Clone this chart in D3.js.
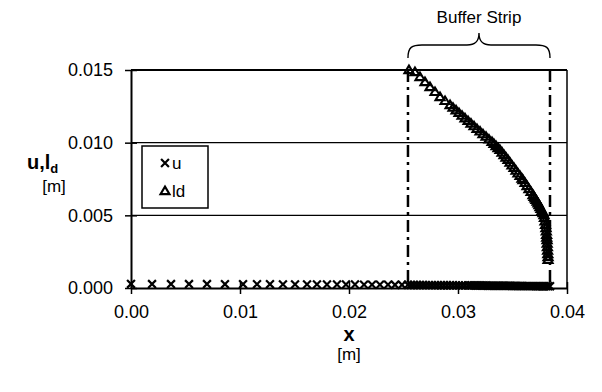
<!DOCTYPE html>
<html>
<head>
<meta charset="utf-8">
<script src="https://cdn.jsdelivr.net/npm/d3@7"></script>
<style>
  body { margin: 0; background: #fff; }
  text { font-family: "Liberation Sans", Arial, sans-serif; fill: #000; }
</style>
</head>
<body>
<div id="chart"></div>
<script>
// u series (x markers): [x, u]
const uData = [
  [0.00000, 0.00028], [0.00193, 0.00027], [0.00367, 0.00027], [0.00532, 0.00027], [0.00697, 0.00027],
  [0.00862, 0.00026], [0.01028, 0.00026], [0.01156, 0.00026], [0.01275, 0.00026], [0.01394, 0.00025],
  [0.01505, 0.00025], [0.01615, 0.00025], [0.01706, 0.00025], [0.01798, 0.00024], [0.01890, 0.00024],
  [0.01972, 0.00024], [0.02055, 0.00024], [0.02138, 0.00023], [0.02211, 0.00023], [0.02284, 0.00023],
  [0.02358, 0.00023], [0.02422, 0.00022], [0.02486, 0.00022], [0.02541, 0.00022],
  // inside the buffer strip
  [0.02569, 0.00021], [0.02596, 0.00021], [0.02624, 0.00021], [0.02651, 0.00021], [0.02679, 0.00021],
  [0.02706, 0.00020], [0.02734, 0.00020], [0.02761, 0.00020], [0.02789, 0.00020], [0.02816, 0.00020],
  [0.02844, 0.00019], [0.02871, 0.00019], [0.02899, 0.00019], [0.02927, 0.00019], [0.02954, 0.00019],
  [0.02982, 0.00018], [0.03009, 0.00018], [0.03037, 0.00018], [0.03064, 0.00018], [0.03092, 0.00018],
  [0.03110, 0.00018],
  [0.03128, 0.00018], [0.03147, 0.00018], [0.03165, 0.00017], [0.03183, 0.00017], [0.03202, 0.00017],
  [0.03220, 0.00017], [0.03238, 0.00017], [0.03257, 0.00017], [0.03275, 0.00016], [0.03293, 0.00016],
  [0.03312, 0.00016], [0.03330, 0.00016], [0.03349, 0.00016], [0.03367, 0.00016], [0.03385, 0.00015],
  [0.03404, 0.00015], [0.03422, 0.00015], [0.03440, 0.00015], [0.03459, 0.00015], [0.03477, 0.00015],
  [0.03495, 0.00014], [0.03514, 0.00014], [0.03532, 0.00014], [0.03550, 0.00014], [0.03569, 0.00014],
  [0.03587, 0.00014], [0.03605, 0.00013], [0.03624, 0.00013], [0.03642, 0.00013], [0.03660, 0.00013],
  [0.03679, 0.00013], [0.03697, 0.00013], [0.03716, 0.00012], [0.03734, 0.00012], [0.03752, 0.00012],
  [0.03771, 0.00012], [0.03789, 0.00012], [0.03807, 0.00012], [0.03826, 0.00012], [0.03844, 0.00012]
]

// ld series (open triangles): [x, ld], only inside the buffer strip
const ldData = [
  [0.02550, 0.01500], [0.02605, 0.01486], [0.02651, 0.01452], [0.02697, 0.01417], [0.02743, 0.01383],
  [0.02789, 0.01349], [0.02835, 0.01314], [0.02881, 0.01287], [0.02927, 0.01259], [0.02954, 0.01241],
  [0.02982, 0.01223], [0.03009, 0.01205], [0.03037, 0.01186], [0.03064, 0.01168], [0.03092, 0.01150],
  [0.03119, 0.01132], [0.03147, 0.01114], [0.03174, 0.01095], [0.03202, 0.01078], [0.03229, 0.01059],
  [0.03257, 0.01041], [0.03284, 0.01023], [0.03312, 0.01005], [0.03330, 0.00991], [0.03349, 0.00977],
  [0.03367, 0.00963], [0.03385, 0.00950], [0.03404, 0.00932], [0.03422, 0.00915], [0.03440, 0.00898],
  [0.03459, 0.00881], [0.03477, 0.00862], [0.03495, 0.00844], [0.03514, 0.00826], [0.03532, 0.00807],
  [0.03550, 0.00789], [0.03569, 0.00771], [0.03587, 0.00752], [0.03596, 0.00743], [0.03615, 0.00723],
  [0.03633, 0.00702], [0.03651, 0.00681], [0.03670, 0.00661], [0.03688, 0.00640], [0.03697, 0.00628],
  [0.03706, 0.00617], [0.03715, 0.00606], [0.03725, 0.00594], [0.03734, 0.00583], [0.03743, 0.00571],
  [0.03752, 0.00557], [0.03761, 0.00544], [0.03771, 0.00530], [0.03780, 0.00516], [0.03789, 0.00502],
  [0.03793, 0.00482], [0.03798, 0.00458], [0.03803, 0.00434], [0.03807, 0.00413], [0.03810, 0.00389],
  [0.03813, 0.00365], [0.03814, 0.00347], [0.03817, 0.00330], [0.03818, 0.00306], [0.03820, 0.00282],
  [0.03822, 0.00258], [0.03824, 0.00234], [0.03826, 0.00213], [0.03826, 0.00193]
]

const bufferEdges = [0.02541, 0.03844]
const xTicks = [0, 0.01, 0.02, 0.03, 0.04]
const yTicks = [0, 0.005, 0.010, 0.015]
const gridTicks = [0.005, 0.010]

const W = 602, H = 392
const margin = {left: 131, right: 35, top: 70, bottom: 104}
const width = W - margin.left - margin.right
const height = H - margin.top - margin.bottom

const svg = d3.select("#chart").append("svg")
  .attr("width", W).attr("height", H)

const g = svg.append("g")
  .attr("transform", `translate(${margin.left},${margin.top})`)

const x = d3.scaleLinear().domain([0, 0.04]).range([0, width])
const y = d3.scaleLinear().domain([0, 0.015]).range([height, 0])

/* gridlines */
g.selectAll(".grid").data(gridTicks).join("line")
  .attr("x1", 0).attr("x2", width)
  .attr("y1", d => y(d)).attr("y2", d => y(d))
  .style("stroke", "#000").style("stroke-width", 1.3)

/* plot border top + right */
g.append("line").attr("x1", 0).attr("x2", width).attr("y1", 0).attr("y2", 0)
  .style("stroke", "#000").style("stroke-width", 2)
g.append("line").attr("x1", width).attr("x2", width).attr("y1", 0).attr("y2", height)
  .style("stroke", "#000").style("stroke-width", 1.5)

/* buffer strip edges */
g.selectAll(".edge").data(bufferEdges).join("line")
  .attr("x1", d => x(d)).attr("x2", d => x(d))
  .attr("y1", 0).attr("y2", height)
  .style("stroke", "#000").style("stroke-width", 2.5)
  .style("stroke-dasharray", "12,5,3,5")

/* axes */
const xAxis = g.append("g")
  .attr("transform", `translate(0,${height})`)
  .call(d3.axisBottom(x).tickValues(xTicks).tickFormat(d3.format(".2f"))
    .tickSizeInner(6).tickSizeOuter(0).tickPadding(11))
const yAxis = g.append("g")
  .call(d3.axisLeft(y).tickValues(yTicks).tickFormat(d3.format(".3f"))
    .tickSizeInner(6).tickSizeOuter(0).tickPadding(12))

;[xAxis, yAxis].forEach(a => {
  a.select(".domain").style("stroke", "#000").style("stroke-width", 2)
  a.selectAll(".tick text").style("font-size", "18px")
    .style("font-family", "'Liberation Sans', Arial, sans-serif")
  a.selectAll(".tick line").style("stroke-width", 1.5)
})
// ticks cross the axis
xAxis.selectAll(".tick line").attr("y1", -6).attr("y2", 6)
yAxis.selectAll(".tick line").attr("x1", -6).attr("x2", 6)

/* u markers */
const crossPath = d3.symbol().type(d3.symbolX).size(42)
g.selectAll(".u").data(uData).join("path")
  .attr("d", crossPath)
  .attr("transform", d => `translate(${x(d[0])},${y(d[1])})`)
  .style("fill", "none").style("stroke", "#000").style("stroke-width", 2.2)

/* ld markers, no fill so dense runs merge into a solid band */
const triPath = "M0,-4.4L4.5,3.1L-4.5,3.1Z"
g.selectAll(".ld").data(ldData).join("path")
  .attr("d", triPath)
  .attr("transform", d => `translate(${x(d[0])},${y(d[1])})`)
  .style("fill", "none").style("stroke", "#000").style("stroke-width", 2.1)

/* legend */
const lg = svg.append("g").attr("transform", "translate(142,146)")
lg.append("rect").attr("width", 66).attr("height", 62)
  .style("fill", "#fff").style("stroke", "#000").style("stroke-width", 1.5)
lg.append("path").attr("d", crossPath)
  .attr("transform", "translate(23,17)")
  .style("fill", "none").style("stroke", "#000").style("stroke-width", 2.2)
lg.append("text").attr("x", 30).attr("y", 23).style("font-size", "17px").text("u")
lg.append("path").attr("d", triPath)
  .attr("transform", "translate(23,45)")
  .style("fill", "none").style("stroke", "#000").style("stroke-width", 2.1)
lg.append("text").attr("x", 30).attr("y", 51).style("font-size", "17px").text("ld")

/* buffer strip brace */
const bx0 = margin.left + x(bufferEdges[0]), bx1 = margin.left + x(bufferEdges[1])
const bm = (bx0 + bx1) / 2
svg.append("path")
  .attr("d", `M${bx0},58 C${bx0},47 ${bx0 + 4},45 ${bx0 + 14},45 L${bm - 12},45 C${bm - 4},45 ${bm},42 ${bm},33` +
    ` C${bm},42 ${bm + 4},45 ${bm + 12},45 L${bx1 - 14},45 C${bx1 - 4},45 ${bx1},47 ${bx1},58`)
  .style("fill", "none").style("stroke", "#000").style("stroke-width", 1.4)
svg.append("text").attr("x", bm).attr("y", 23)
  .attr("text-anchor", "middle").style("font-size", "17px")
  .text("Buffer Strip")

/* axis titles */
svg.append("text").attr("x", margin.left + width / 2).attr("y", 341)
  .attr("text-anchor", "middle").style("font-size", "20px").style("font-weight", "bold")
  .text("x")
svg.append("text").attr("x", margin.left + width / 2).attr("y", 360)
  .attr("text-anchor", "middle").style("font-size", "17px")
  .text("[m]")

const yt = svg.append("text").attr("x", 27).attr("y", 169)
  .style("font-size", "20px").style("font-weight", "bold")
yt.append("tspan").text("u,l")
yt.append("tspan").attr("dy", 4).style("font-size", "13px").text("d")
svg.append("text").attr("x", 54).attr("y", 192)
  .attr("text-anchor", "middle").style("font-size", "17px")
  .text("[m]")
</script>
</body>
</html>
